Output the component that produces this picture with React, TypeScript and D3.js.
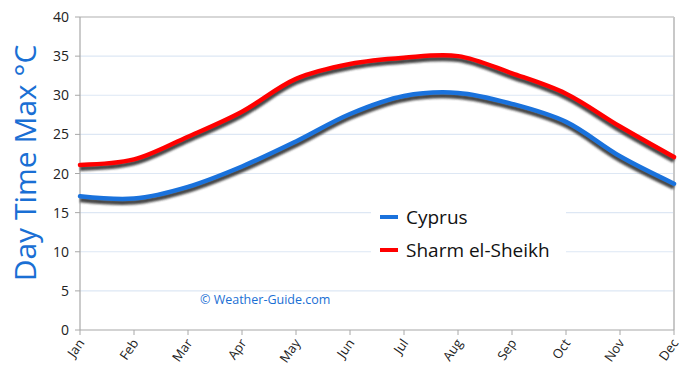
import React from "react";
import * as d3 from "d3";

const months = ["Jan", "Feb", "Mar", "Apr", "May", "Jun", "Jul", "Aug", "Sep", "Oct", "Nov", "Dec"];
const cyprus = [17.1, 16.8, 18.3, 20.9, 24.1, 27.6, 29.9, 30.3, 28.9, 26.6, 22.2, 18.7];
const sharm = [21.1, 21.8, 24.7, 27.9, 32.1, 34.0, 34.8, 35.0, 32.8, 30.2, 26.0, 22.1];
const yTicks = [0, 5, 10, 15, 20, 25, 30, 35, 40];
const seriesNames = ["Cyprus", "Sharm el-Sheikh"];
const seriesColors = ["#1a72dc", "#ff0000"];

const W = 690, H = 375;
const L = 80, R = 674, T = 17, B = 330;
const FONT = "'Open Sans', 'DejaVu Sans', sans-serif";

export default function App() {
  const x = d3.scalePoint<string>().domain(months).range([L, R]);
  const y = d3.scaleLinear().domain([0, 40]).range([B, T]);
  const line = d3
    .line<number>()
    .x((_, i) => x(months[i]) as number)
    .y((d) => y(d))
    .curve(d3.curveCatmullRom.alpha(0.5));
  const series = [cyprus, sharm];

  return (
    <svg width={W} height={H} style={{ position: "absolute", left: 0, top: 0, background: "#fff" }}>
      <defs>
        <filter id="sh" x="-10%" y="-50%" width="120%" height="200%">
          <feGaussianBlur stdDeviation="1.3" />
        </filter>
      </defs>
      <rect x={0} y={0} width={W} height={H} fill="#fff" />
      {yTicks.filter((t) => t > 0 && t < 40).map((t) => (
        <line key={t} x1={L} x2={R} y1={y(t)} y2={y(t)} stroke="#dde7f4" strokeWidth={1.2} />
      ))}
      <line x1={L} x2={R} y1={T} y2={T} stroke="#b0b0b0" strokeWidth={1.2} />
      <line x1={R} x2={R} y1={T} y2={B} stroke="#c8c8c8" strokeWidth={2} />
      <line x1={L} x2={L} y1={T} y2={B} stroke="#a8a8a8" strokeWidth={1.2} />
      <line x1={L} x2={R} y1={B} y2={B} stroke="#a8a8a8" strokeWidth={1.2} />
      {yTicks.map((t) => (
        <g key={t}>
          <line x1={L - 5} x2={L} y1={y(t)} y2={y(t)} stroke="#a8a8a8" />
          <text x={L - 11} y={y(t)} dy="0.36em" textAnchor="end" fontFamily={FONT} fontSize={14} fill="#222">
            {t}
          </text>
        </g>
      ))}
      {months.map((m) => {
        const xx = x(m) as number;
        return (
          <g key={m}>
            <line x1={xx} x2={xx} y1={B} y2={B + 5} stroke="#a8a8a8" />
            <text
              transform={`translate(${xx + 5},${B + 13}) rotate(-55)`}
              textAnchor="end"
              fontFamily={FONT}
              fontSize={13}
              fill="#222"
            >
              {m}
            </text>
          </g>
        );
      })}
      <text x={200} y={304} fontFamily={FONT} fontSize={12.5} fill="#1a6fd4">
        © Weather-Guide.com
      </text>
      {series.map((s, i) => (
        <g key={i}>
          <path d={line(s) || ""} fill="none" stroke="#333" strokeWidth={5} transform="translate(0,3.5)" filter="url(#sh)" opacity={0.9} />
          <path d={line(s) || ""} fill="none" stroke={seriesColors[i]} strokeWidth={4.5} strokeLinecap="round" />
        </g>
      ))}
      <rect x={371} y={199} width={195} height={70} fill="#fff" />
      {seriesNames.map((n, i) => (
        <g key={n}>
          <line x1={380} x2={398} y1={217 + i * 33} y2={217 + i * 33} stroke={seriesColors[i]} strokeWidth={4} />
          <text x={406} y={217 + i * 33} dy="0.35em" fontFamily={FONT} fontSize={19} fill="#111">
            {n}
          </text>
        </g>
      ))}
      <text
        transform={`translate(36,${163}) rotate(-90)`}
        textAnchor="middle"
        fontFamily={FONT}
        fontSize={30}
        fill="#1a6fd4"
      >
        Day Time Max °C
      </text>
    </svg>
  );
}
